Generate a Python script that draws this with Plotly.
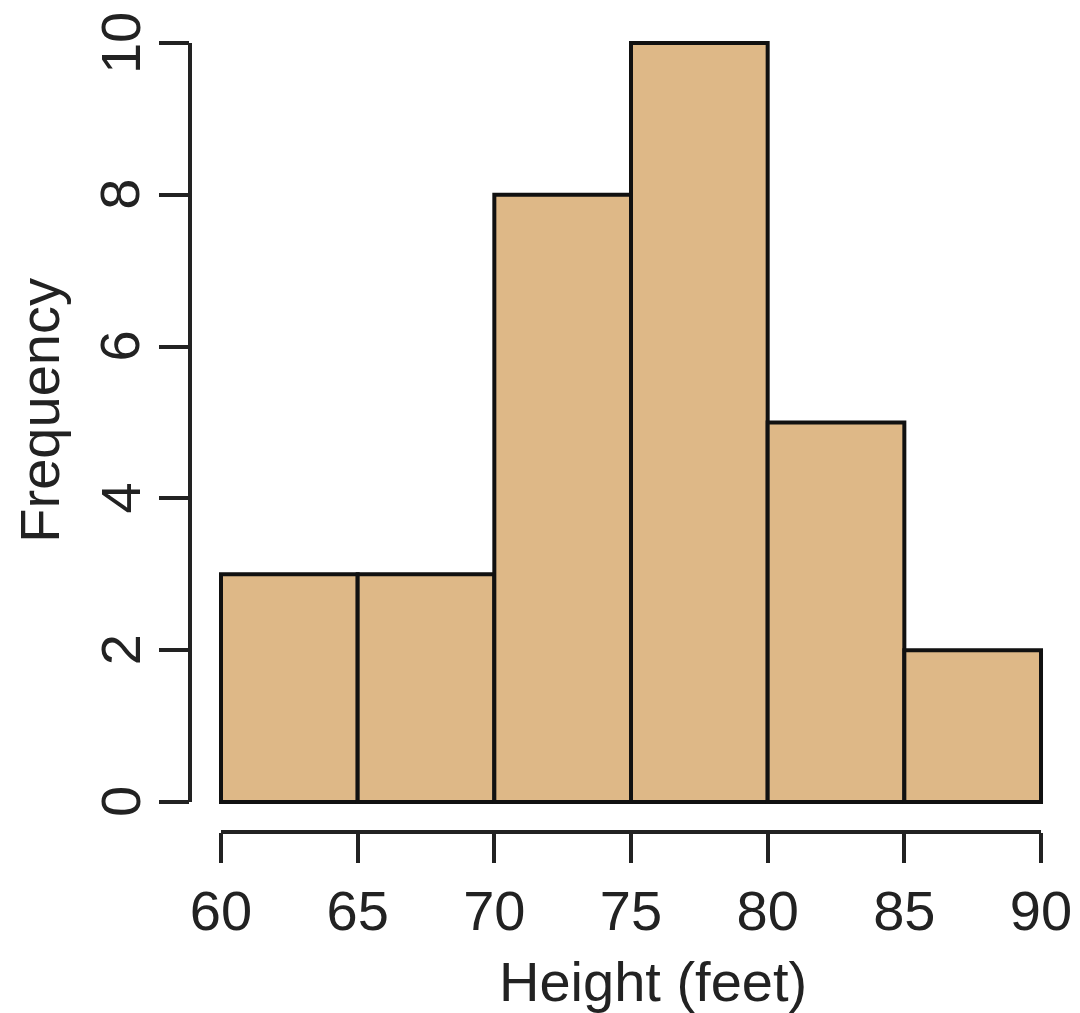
import plotly.graph_objects as go

bin_edges = [60, 65, 70, 75, 80, 85, 90]
counts = [3, 3, 8, 10, 5, 2]
x_ticks = [60, 65, 70, 75, 80, 85, 90]
y_ticks = [0, 2, 4, 6, 8, 10]
y_tick_labels = ["0", "2", "4", "6", "8", "10"]

mids = [(a + b) / 2 for a, b in zip(bin_edges[:-1], bin_edges[1:])]
widths = [b - a for a, b in zip(bin_edges[:-1], bin_edges[1:])]

FONT = "Liberation Sans"
AX = "#222222"

fig = go.Figure()
fig.add_trace(go.Bar(
    x=mids, y=counts, width=widths,
    marker=dict(color="#DEB887", line=dict(color="#111111", width=4)),
    showlegend=False,
))

ytick_annots = [
    dict(text=lab, xref="paper", yref="y", x=0, y=v, xshift=-70,
         xanchor="center", yanchor="middle", showarrow=False, textangle=-90,
         font=dict(family=FONT, size=56, color="#222222"))
    for v, lab in zip(y_ticks, y_tick_labels)
]

fig.update_layout(
    width=1072, height=1005,
    margin=dict(l=182, r=35, t=31, b=181, autoexpand=False),
    paper_bgcolor="white", plot_bgcolor="white",
    font=dict(family=FONT, size=56, color="#222222"),
    xaxis=dict(range=[58.866, 90.146], tickvals=x_ticks, showgrid=False, zeroline=False,
               showline=False, ticks="outside", ticklen=30, tickwidth=4, tickcolor=AX,
               ticklabelstandoff=0, automargin=False, ticklabeloverflow="allow"),
    yaxis=dict(range=[-0.395, 10.053], tickvals=y_ticks, showgrid=False, zeroline=False,
               showline=False, ticks="outside", ticklen=30, tickwidth=4, tickcolor=AX,
               showticklabels=False, automargin=False),
    shapes=[
        dict(type="line", xref="x", yref="paper", x0=x_ticks[0], x1=x_ticks[-1], y0=0, y1=0,
             line=dict(color=AX, width=4)),
        dict(type="line", xref="paper", yref="y", x0=0, x1=0, y0=y_ticks[0], y1=y_ticks[-1],
             line=dict(color=AX, width=4)),
    ],
    annotations=ytick_annots + [
        dict(text="Height (feet)", xref="paper", yref="paper", x=0.542, y=-0.188,
             xanchor="center", yanchor="middle", showarrow=False,
             font=dict(family=FONT, size=56, color="#222222")),
        dict(text="Frequency", xref="paper", yref="paper", x=-0.176, y=0.532,
             xanchor="center", yanchor="middle", showarrow=False, textangle=-90,
             font=dict(family=FONT, size=56, color="#222222")),
    ],
)

fig.write_html("out.html")
